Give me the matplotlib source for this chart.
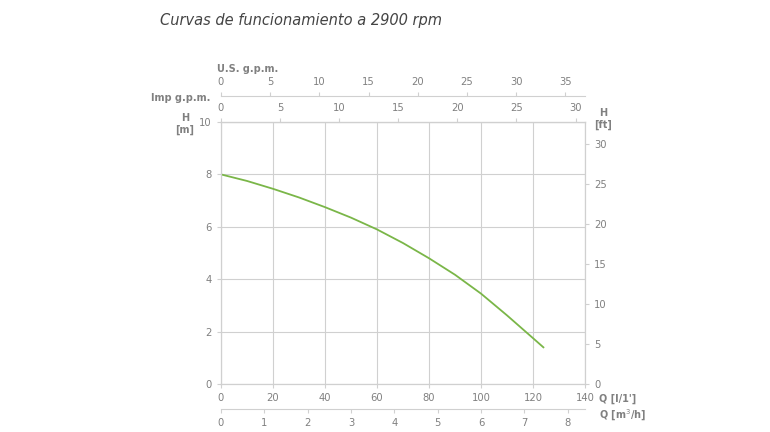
import matplotlib
matplotlib.use("Agg")
import matplotlib.pyplot as plt
import numpy as np

q_lmin = [0, 10, 20, 30, 40, 50, 60, 70, 80, 90, 100, 110, 120, 124]
h_m = [8.0, 7.75, 7.45, 7.12, 6.75, 6.35, 5.9, 5.38, 4.8, 4.17, 3.45, 2.62, 1.75, 1.4]
x_ticks = [0, 20, 40, 60, 80, 100, 120, 140]
y_ticks = [0, 2, 4, 6, 8, 10]
ft_ticks = [0, 5, 10, 15, 20, 25, 30]
imp_ticks = [0, 5, 10, 15, 20, 25, 30]
us_ticks = [0, 5, 10, 15, 20, 25, 30, 35]
m3h_ticks = [0, 1, 2, 3, 4, 5, 6, 7, 8]

grey = "#808080"
lc = "#d0d0d0"
fig = plt.figure(figsize=(7.7, 4.32), dpi=100)
ax = fig.add_axes([221/770, 48/432, 364/770, 262/432])
ax.plot(q_lmin, h_m, color="#7ab648", lw=1.3)
ax.set_xlim(0, 140); ax.set_ylim(0, 10)
ax.set_xticks(x_ticks); ax.set_yticks(y_ticks)
ax.grid(True, color=lc, lw=0.8)
for s in ax.spines.values():
    s.set_color(lc)
ax.tick_params(colors=lc, labelcolor=grey, labelsize=7.2, length=3)

ax2 = ax.twinx()
ax2.set_ylim(0, 10 * 3.28084)
ax2.set_yticks(ft_ticks)
for s in ax2.spines.values():
    s.set_color(lc)
ax2.tick_params(colors=lc, labelcolor=grey, labelsize=7.2, length=3)

def mk(loc, fwd, inv, ticks):
    sa = ax.secondary_xaxis(loc, functions=(fwd, inv))
    sa.set_xticks(ticks)
    sa.spines[:].set_color(lc)
    sa.tick_params(colors=lc, labelcolor=grey, labelsize=7.2, length=3)
    return sa

mk('top', lambda x: x / 4.546, lambda x: x * 4.546, imp_ticks)
us = mk(1.099, lambda x: x / 3.785, lambda x: x * 3.785, us_ticks)
mk(-0.097, lambda x: x * 0.06, lambda x: x / 0.06, m3h_ticks)

kw = dict(color=grey, fontsize=7, fontweight="bold")
fig.text(217/770, 1 - 69/432, "U.S. g.p.m.", ha="left", va="center", **kw)
fig.text(210/770, 1 - 98/432, "Imp g.p.m.", ha="right", va="center", **kw)
fig.text(185/770, 1 - 124/432, "H\n[m]", ha="center", va="center", linespacing=1.1, **kw)
fig.text(603/770, 1 - 119/432, "H\n[ft]", ha="center", va="center", linespacing=1.1, **kw)
fig.text(599/770, 1 - 399/432, "Q [l/1']", ha="left", va="center", **kw)
fig.text(599/770, 1 - 415/432, "Q [m$^3$/h]", ha="left", va="center", **kw)
fig.text(160/770, 1 - 20/432, "Curvas de funcionamiento a 2900 rpm", ha="left", va="center",
         color="#444444", fontsize=10.5, style="italic", family="DejaVu Sans", fontweight="light")
fig.savefig("out.png", dpi=100)
